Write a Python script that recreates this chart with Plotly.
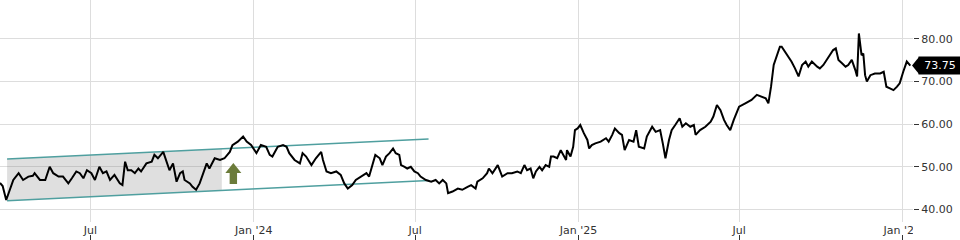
import pandas as pd
import plotly.graph_objects as go

START = "2023-03-21"

day_offsets = [
    0, 3, 7, 11, 15, 21, 26, 32, 37, 39, 45, 51, 56, 60, 66, 71, 77, 81, 86, 90, 94, 98, 103, 107, 112,
    116, 120, 124, 129, 135, 138, 141, 144, 148, 152, 156, 159, 165, 171, 174, 178, 184, 188, 191, 195,
    199, 203, 206,
    208, 214, 217, 221, 225, 229, 233, 236, 242, 248, 253, 259, 262, 268, 274, 278, 283, 289, 294, 300,
    304, 307, 313, 319, 323, 326, 332, 338, 341, 345, 351, 356, 362, 364, 368, 373, 379, 384, 388, 392,
    397, 401, 407, 413,
    416, 420, 423, 428, 431, 435, 439, 443, 446, 450, 452, 456, 459, 463, 467, 471, 474, 480, 486, 491,
    495, 499, 503, 505, 510, 516, 521, 527, 531, 536, 538, 544, 549, 551, 555, 561, 564, 566, 572, 577,
    583, 587, 591, 594, 598, 601, 604, 608, 611, 615, 619, 621, 624,
    628, 632, 638, 639, 643, 646, 648, 651, 654, 658, 662, 664, 667, 671, 677, 683, 686, 690, 693, 698,
    701, 704, 709, 714, 717, 720, 726, 729, 735, 739, 744, 747, 750, 754, 757, 761, 766, 769, 773, 778,
    782, 784, 789, 795, 801, 804, 808, 812, 816, 819, 823, 827, 831, 833,
    840, 847, 853, 859, 863, 866, 869, 872, 876, 879, 881, 885, 889, 892, 896, 900, 904, 908, 911, 915,
    921, 924, 928, 932, 936, 939, 942, 945, 949, 953, 956, 960, 964, 966, 968, 971, 973, 975, 977, 981,
    986, 992, 996, 998, 999, 1003, 1007, 1011, 1014, 1018, 1022, 1026,
]

close = [
    46.2, 45.5, 42.2, 44.6, 46.9, 48.5, 46.9, 47.7, 47.9, 48.5, 46.9, 46.9, 50.0, 48.5, 47.7, 47.7, 46.1,
    47.3, 48.9, 48.5, 47.3, 49.2, 48.5, 46.9, 50.0, 48.5, 48.9, 46.9, 48.1, 46.1, 45.7, 51.2, 49.2, 49.2,
    48.5, 49.6, 48.9, 50.8, 51.2, 52.8, 52.0, 53.5, 50.8, 49.2, 50.8, 46.5, 48.5, 48.9,
    46.9, 46.1, 45.3, 44.6, 46.1, 48.5, 50.8, 49.6, 52.0, 51.6, 52.0, 53.5, 55.1, 55.9, 57.1, 55.9, 55.1,
    53.2, 55.1, 54.7, 52.8, 52.4, 54.7, 55.1, 54.7, 53.2, 51.6, 50.8, 53.2, 52.4, 50.4, 52.0, 53.5, 51.6,
    48.9, 48.5, 48.9, 48.1, 46.1, 44.9, 45.7, 46.9, 47.7, 48.5,
    47.7, 50.4, 52.8, 52.0, 50.4, 52.4, 53.2, 54.3, 53.2, 52.8, 50.4, 50.0, 49.6, 50.0, 48.9, 48.5, 47.7,
    46.9, 46.5, 46.9, 46.1, 46.9, 46.1, 43.8, 44.2, 44.9, 44.6, 45.3, 45.7, 44.9, 46.5, 47.3, 48.5, 49.6,
    48.5, 50.4, 48.9, 47.7, 48.5, 48.5, 48.9, 48.5, 50.4, 49.2, 49.6, 47.3, 48.9, 50.0, 49.2, 50.4, 50.0,
    52.4, 52.4,
    52.0, 53.9, 51.6, 53.9, 52.4, 54.7, 58.6, 59.0, 59.8, 57.9, 56.3, 54.3, 55.1, 55.5, 55.9, 56.7, 55.9,
    57.5, 59.0, 57.9, 57.5, 53.9, 56.3, 55.9, 58.6, 54.7, 54.3, 57.1, 59.4, 58.2, 58.6, 55.5, 52.0, 56.3,
    58.6, 59.8, 61.4, 59.4, 60.2, 59.4, 59.8, 57.5, 58.6, 59.4, 60.6, 61.8, 64.5, 63.3, 61.0, 59.8, 58.6,
    61.0, 63.3, 64.1,
    64.9, 65.7, 66.9, 66.5, 66.1, 64.9, 68.8, 73.9, 76.2, 78.2, 78.2, 77.0, 75.9, 74.7, 73.1, 71.2, 73.9,
    74.7, 73.5, 74.7, 73.5, 73.1, 73.9, 75.1, 76.6, 77.4, 77.8, 75.1, 74.3, 73.5, 73.9, 75.1, 72.7, 71.2,
    81.3, 76.2, 76.6, 71.5, 70.0, 71.5, 71.9, 71.9, 72.3, 70.4, 68.8, 68.4, 68.0, 68.8, 69.6, 72.3, 74.7,
    73.75,
]

# channel drawn on the chart
CH_DATES = ["2023-03-29", "2024-07-16"]
CH_UPPER = [51.8, 56.5]
CH_LOWER = [42.0, 46.8]
SHADE_END = "2023-11-26"

ARROW_DATE = "2023-12-09"
ARROW_VALUE = 48.45

LAST_PRICE = 73.75

X_RANGE = ["2023-03-21", "2026-01-13"]
Y_RANGE = [37.04, 89.15]
Y_TICKS = [40, 50, 60, 70, 80]
X_TICKS = ["2023-07-01", "2024-01-01", "2024-07-01", "2025-01-01", "2025-07-01", "2026-01-01"]
X_TICKTEXT = ["Jul", "Jan '24", "Jul", "Jan '25", "Jul", "Jan '26"]

dates = pd.Timestamp(START) + pd.to_timedelta(day_offsets, unit="D")

# shaded parallelogram inside the channel
c0, c1 = pd.Timestamp(CH_DATES[0]), pd.Timestamp(CH_DATES[1])
se = pd.Timestamp(SHADE_END)
frac = (se - c0) / (c1 - c0)
up_end = CH_UPPER[0] + frac * (CH_UPPER[1] - CH_UPPER[0])
lo_end = CH_LOWER[0] + frac * (CH_LOWER[1] - CH_LOWER[0])

FONT = "DejaVu Sans"
TXT = "#333333"

fig = go.Figure()

fig.add_trace(go.Scatter(
    x=[c0, se, se, c0, c0], y=[CH_UPPER[0], up_end, lo_end, CH_LOWER[0], CH_UPPER[0]],
    fill="toself", fillcolor="rgba(120,120,120,0.24)", line=dict(width=0),
    mode="lines", hoverinfo="skip", showlegend=False,
))

for vals in (CH_UPPER, CH_LOWER):
    fig.add_trace(go.Scatter(
        x=CH_DATES, y=vals, mode="lines", line=dict(color="#4f9f9f", width=1.5),
        hoverinfo="skip", showlegend=False,
    ))

fig.add_trace(go.Scatter(
    x=dates, y=close, mode="lines", line=dict(color="black", width=2),
    showlegend=False,
))

# invisible trace for the tick-only bottom axis
fig.add_trace(go.Scatter(
    x=[dates[0], dates[-1]], y=[close[0], close[-1]], xaxis="x2", mode="markers",
    marker=dict(opacity=0), hoverinfo="skip", showlegend=False,
))

# green up arrow (block arrow)
fig.add_shape(
    type="path", xref="x", yref="y", xsizemode="pixel", ysizemode="pixel",
    xanchor=ARROW_DATE, yanchor=ARROW_VALUE,
    path="M 0,10.5 L 8,0.5 L 3.7,0.5 L 3.7,-10.5 L -3.7,-10.5 L -3.7,0.5 L -8,0.5 Z",
    fillcolor="#6b7b3a", line=dict(width=0), layer="above",
)

# last price tag
fig.add_annotation(
    x=1, y=LAST_PRICE, xref="paper", yref="y", xanchor="left", yanchor="middle",
    xshift=5, text=f"{LAST_PRICE:.2f}", showarrow=False, bgcolor="black",
    width=38, height=13, align="center",
    borderpad=2, font=dict(family=FONT, size=11, color="white"),
)
fig.add_shape(
    type="path", xref="paper", yref="y", xsizemode="pixel", ysizemode="pixel",
    xanchor=1, yanchor=LAST_PRICE, path="M -1,0 L 6,8.5 L 6,-8.5 Z",
    fillcolor="black", line=dict(width=0), layer="above",
)

# the last x label is cut at the plot edge in the original
fig.add_shape(
    type="rect", xref="paper", yref="paper", x0=1, x1=1.06, y0=0.0, y1=0.072,
    fillcolor="white", line=dict(width=0), layer="above",
)

fig.update_layout(
    width=960, height=240,
    margin=dict(l=0, r=47, t=0, b=0),
    paper_bgcolor="white", plot_bgcolor="white",
    font=dict(family=FONT, size=11, color=TXT),
    xaxis=dict(
        type="date", range=X_RANGE, tickvals=X_TICKS, ticktext=X_TICKTEXT,
        showgrid=True, gridcolor="#dddddd", gridwidth=1, ticks="", zeroline=False,
        showline=False, tickfont=dict(family=FONT, size=11, color=TXT),
    ),
    xaxis2=dict(
        type="date", matches="x", overlaying="x", anchor="free", position=0, side="bottom",
        tickvals=X_TICKS, ticks="inside", ticklen=5, tickcolor=TXT, showticklabels=False,
        showgrid=False, zeroline=False, showline=False,
    ),
    yaxis=dict(
        domain=[0.075, 1], range=Y_RANGE, side="right", tickvals=Y_TICKS, tickformat=".2f",
        showgrid=True, gridcolor="#dddddd", gridwidth=1, ticks="outside", ticklen=5,
        tickcolor=TXT, zeroline=False, showline=False,
        tickfont=dict(family=FONT, size=11, color=TXT),
    ),
    showlegend=False,
)

fig.write_html("out.html")
